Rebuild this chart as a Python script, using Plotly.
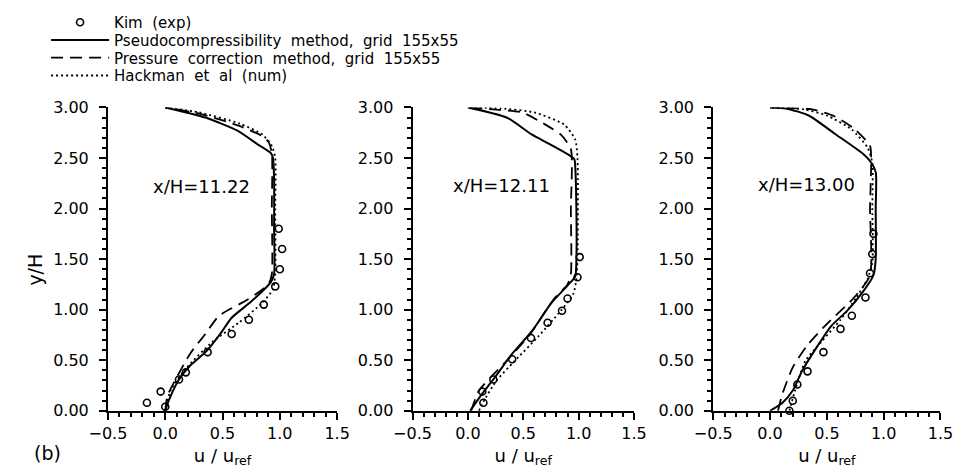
import plotly.graph_objects as go

# ---------------- data ----------------
panel_labels = ["x/H=11.22", "x/H=12.11", "x/H=13.00"]

# Panel 1  (x/H = 11.22)
p1_pseudo_u = [0.0, 0.03, 0.12, 0.22, 0.36, 0.48, 0.58, 0.75, 0.92, 0.95, 0.95, 0.95, 0.94, 0.92, 0.80, 0.63, 0.35, 0.0]
p1_pseudo_y = [0.0, 0.10, 0.31, 0.45, 0.59, 0.76, 0.92, 1.08, 1.27, 1.35, 1.80, 2.30, 2.50, 2.55, 2.64, 2.77, 2.90, 3.0]
p1_press_u = [0.0, 0.02, 0.10, 0.22, 0.35, 0.47, 0.72, 0.90, 0.93, 0.93, 0.93, 0.90, 0.84, 0.64, 0.29, 0.0]
p1_press_y = [0.0, 0.15, 0.33, 0.57, 0.76, 0.94, 1.10, 1.25, 1.35, 2.00, 2.55, 2.66, 2.72, 2.82, 2.94, 3.0]
p1_hack_u = [0.0, 0.05, 0.19, 0.41, 0.64, 0.84, 0.94, 0.96, 0.96, 0.96, 0.93, 0.85, 0.65, 0.30, 0.0]
p1_hack_y = [0.0, 0.21, 0.43, 0.68, 0.87, 1.06, 1.20, 1.35, 2.00, 2.50, 2.62, 2.73, 2.84, 2.95, 3.0]
p1_kim_u = [-0.16, -0.04, 0.0, 0.12, 0.18, 0.37, 0.58, 0.73, 0.86, 0.96, 1.00, 1.02, 0.99]
p1_kim_y = [0.08, 0.19, 0.04, 0.31, 0.38, 0.58, 0.76, 0.90, 1.05, 1.23, 1.40, 1.60, 1.80]

# Panel 2  (x/H = 12.11)
p2_pseudo_u = [0.02, 0.13, 0.23, 0.39, 0.58, 0.75, 0.91, 0.97, 0.98, 0.98, 0.97, 0.96, 0.75, 0.58, 0.35, 0.0]
p2_pseudo_y = [0.0, 0.17, 0.31, 0.55, 0.79, 1.06, 1.25, 1.33, 1.50, 2.00, 2.40, 2.49, 2.63, 2.73, 2.90, 3.0]
p2_press_u = [0.03, 0.10, 0.32, 0.55, 0.78, 0.90, 0.93, 0.93, 0.93, 0.84, 0.70, 0.49, 0.23, 0.0]
p2_press_y = [0.0, 0.20, 0.46, 0.74, 1.11, 1.25, 1.35, 2.00, 2.59, 2.73, 2.83, 2.95, 2.98, 3.0]
p2_hack_u = [0.10, 0.14, 0.26, 0.42, 0.64, 0.84, 0.95, 0.98, 0.99, 0.99, 0.97, 0.87, 0.60, 0.30, 0.0]
p2_hack_y = [0.0, 0.09, 0.30, 0.49, 0.74, 0.99, 1.15, 1.30, 1.50, 2.50, 2.68, 2.83, 2.95, 2.99, 3.0]
p2_kim_u = [0.14, 0.13, 0.23, 0.40, 0.57, 0.72, 0.85, 0.90, 0.99, 1.01]
p2_kim_y = [0.08, 0.19, 0.31, 0.51, 0.72, 0.87, 0.99, 1.11, 1.32, 1.52]

# Panel 3  (x/H = 13.00)
p3_pseudo_u = [0.0, 0.11, 0.20, 0.28, 0.40, 0.54, 0.68, 0.82, 0.91, 0.93, 0.93, 0.93, 0.88, 0.82, 0.57, 0.34, 0.14, 0.0]
p3_pseudo_y = [0.0, 0.08, 0.20, 0.39, 0.61, 0.84, 0.99, 1.18, 1.34, 1.50, 2.00, 2.36, 2.47, 2.54, 2.74, 2.92, 2.99, 3.0]
p3_press_u = [0.07, 0.11, 0.20, 0.33, 0.51, 0.74, 0.88, 0.88, 0.89, 0.88, 0.74, 0.57, 0.37, 0.0]
p3_press_y = [0.0, 0.17, 0.43, 0.65, 0.87, 1.12, 1.34, 2.00, 2.46, 2.62, 2.79, 2.91, 2.98, 3.0]
p3_hack_u = [0.17, 0.22, 0.31, 0.45, 0.62, 0.76, 0.86, 0.90, 0.90, 0.90, 0.86, 0.72, 0.50, 0.30, 0.0]
p3_hack_y = [0.0, 0.20, 0.49, 0.68, 0.90, 1.12, 1.31, 1.47, 2.00, 2.45, 2.60, 2.78, 2.92, 2.98, 3.0]
p3_kim_u = [0.17, 0.20, 0.24, 0.33, 0.47, 0.62, 0.72, 0.84, 0.88, 0.90, 0.91]
p3_kim_y = [0.0, 0.10, 0.26, 0.39, 0.58, 0.81, 0.94, 1.12, 1.36, 1.55, 1.75]

series_names = ["Kim  (exp)",
                "Pseudocompressibility  method,  grid  155x55",
                "Pressure  correction  method,  grid  155x55",
                "Hackman  et  al  (num)"]

x_ticks = [-0.5, 0.0, 0.5, 1.0, 1.5]
y_ticks = [0.0, 0.5, 1.0, 1.5, 2.0, 2.5, 3.0]

panels = [
    (p1_kim_u, p1_kim_y, p1_pseudo_u, p1_pseudo_y, p1_press_u, p1_press_y, p1_hack_u, p1_hack_y),
    (p2_kim_u, p2_kim_y, p2_pseudo_u, p2_pseudo_y, p2_press_u, p2_press_y, p2_hack_u, p2_hack_y),
    (p3_kim_u, p3_kim_y, p3_pseudo_u, p3_pseudo_y, p3_press_u, p3_press_y, p3_hack_u, p3_hack_y),
]

# ---------------- figure ----------------
FONT = "DejaVu Sans"
W, H = 967, 476
x_domains = [[92 / W, 329 / W], [407 / W, 636 / W], [718 / W, 953 / W]]
y_domain = [1 - 418.5 / H, 1 - 102.5 / H]
legend_keys = ["legend", "legend2", "legend3", "legend4"]
legend_rows = [14, 32.5, 51, 69.5]   # pixel rows of the legend entries

fig = go.Figure()
for i, (ku, ky, su, sy, pu, py, hu, hy) in enumerate(panels):
    xa = "x" if i == 0 else f"x{i+1}"
    ya = "y" if i == 0 else f"y{i+1}"
    show = i == 0
    fig.add_trace(go.Scatter(x=ku, y=ky, mode="markers", name=series_names[0],
                             marker=dict(symbol="circle-open", size=7, color="black",
                                         line=dict(width=1.6, color="black")),
                             xaxis=xa, yaxis=ya, showlegend=show, legend=legend_keys[0],
                             cliponaxis=False))
    fig.add_trace(go.Scatter(x=su, y=sy, mode="lines", name=series_names[1],
                             line=dict(color="black", width=2, shape="spline", smoothing=0.6),
                             xaxis=xa, yaxis=ya, showlegend=show, legend=legend_keys[1]))
    fig.add_trace(go.Scatter(x=pu, y=py, mode="lines", name=series_names[2],
                             line=dict(color="black", width=1.8, dash="12px,7px",
                                       shape="spline", smoothing=0.6),
                             xaxis=xa, yaxis=ya, showlegend=show, legend=legend_keys[2]))
    fig.add_trace(go.Scatter(x=hu, y=hy, mode="lines", name=series_names[3],
                             line=dict(color="black", width=1.8, dash="2px,3px",
                                       shape="spline", smoothing=0.6),
                             xaxis=xa, yaxis=ya, showlegend=show, legend=legend_keys[3]))

axis_common = dict(showline=True, linecolor="black", linewidth=2, ticks="outside",
                   tickcolor="black", ticklen=7, tickwidth=1.5, showgrid=False,
                   zeroline=False, tickfont=dict(family=FONT, size=16, color="black"))
minor_ticks = dict(dtick=0.1, tick0=0, ticks="outside", ticklen=4,
                   tickcolor="black", tickwidth=1.5)

layout = dict(width=W, height=H, plot_bgcolor="white", paper_bgcolor="white",
              margin=dict(l=0, r=0, t=0, b=0),
              font=dict(family=FONT, color="black"))
for k, row in zip(legend_keys, legend_rows):
    layout[k] = dict(x=28 / W, y=1 - row / H, xanchor="left", yanchor="middle",
                     font=dict(family=FONT, size=15, color="black"),
                     itemwidth=58, bgcolor="rgba(0,0,0,0)", borderwidth=0)
for i in range(3):
    xk = "xaxis" if i == 0 else f"xaxis{i+1}"
    yk = "yaxis" if i == 0 else f"yaxis{i+1}"
    ya = "y" if i == 0 else f"y{i+1}"
    xa = "x" if i == 0 else f"x{i+1}"
    layout[xk] = dict(axis_common, domain=x_domains[i], anchor=ya, range=[-0.5, 1.5],
                      tickvals=x_ticks, tickformat=".1f", minor=minor_ticks,
                      title=dict(text="u / u<sub>ref</sub>", standoff=7,
                                 font=dict(family=FONT, size=18, color="black")))
    layout[yk] = dict(axis_common, domain=y_domain, anchor=xa, range=[0, 3],
                      tickvals=y_ticks, tickformat=".2f", minor=minor_ticks,
                      ticklabelstandoff=7)
fig.update_layout(**layout)

annos = []
label_pos = [(0.314, 2.22), (0.308, 2.23), (0.317, 2.24)]
for i, txt in enumerate(panel_labels):
    xr = "x" if i == 0 else f"x{i+1}"
    yr = "y" if i == 0 else f"y{i+1}"
    annos.append(dict(text=txt, x=label_pos[i][0], y=label_pos[i][1], xref=xr, yref=yr,
                      xanchor="center", yanchor="middle", showarrow=False,
                      font=dict(family=FONT, size=18, color="black")))
annos.append(dict(text="y/H", x=17 / W, y=1 - 271 / H, xref="paper", yref="paper",
                  xanchor="center", yanchor="middle", textangle=-90, showarrow=False,
                  font=dict(family=FONT, size=19, color="black")))
annos.append(dict(text="(b)", x=29 / W, y=1 - 462 / H, xref="paper", yref="paper",
                  xanchor="center", yanchor="middle", showarrow=False,
                  font=dict(family=FONT, size=19, color="black")))
fig.update_layout(annotations=annos)

fig.write_html("out.html", config={"displayModeBar": False},
               post_script="document.body.style.margin='0px';document.body.style.overflow='hidden';")
